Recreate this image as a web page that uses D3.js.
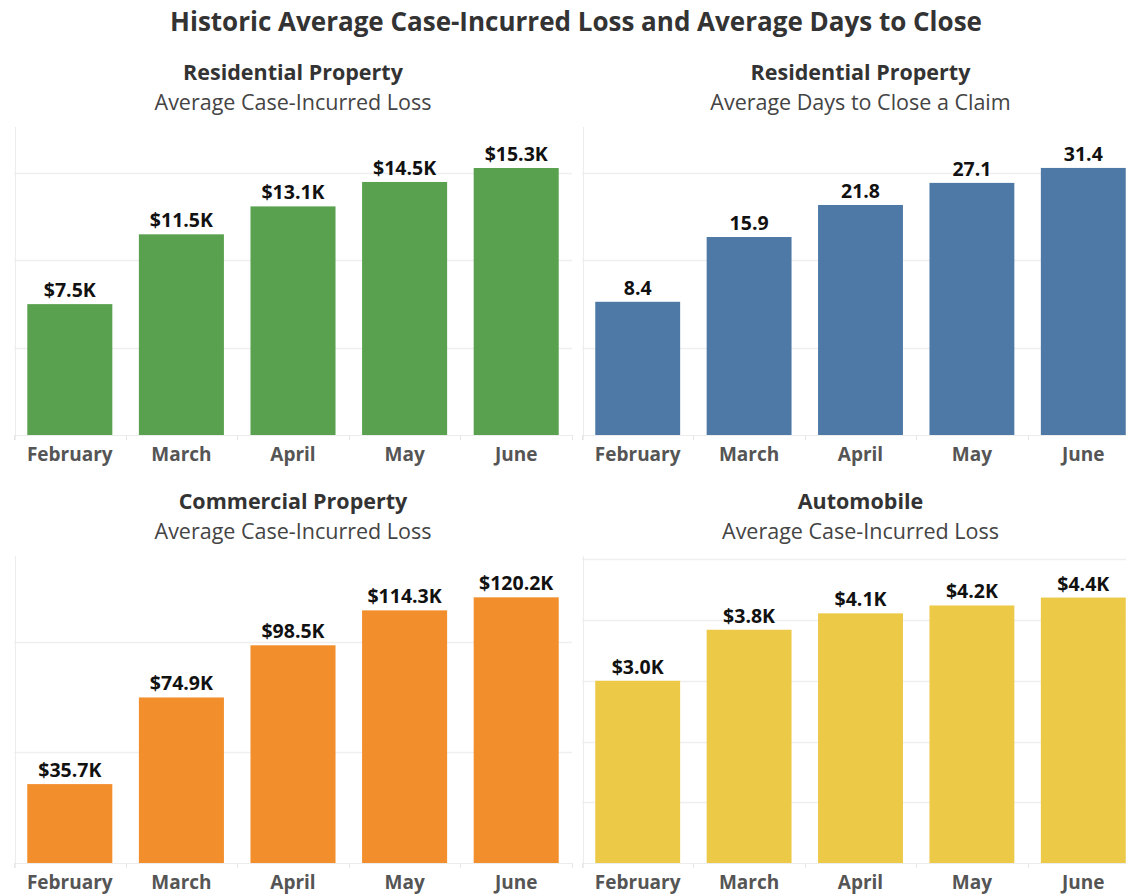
<!DOCTYPE html>
<html>
<head>
<meta charset="utf-8">
<script src="https://cdn.jsdelivr.net/npm/d3@7"></script>
<style>
  html, body { margin: 0; padding: 0; background: #fff; }
  svg { display: block; font-family: "Open Sans", "Noto Sans", sans-serif; }
</style>
</head>
<body>
<svg id="chart" width="1126" height="896"></svg>
<script>
// ---- Data ----
const months = ["February", "March", "April", "May", "June"];
const residentialLoss = [7.5, 11.5, 13.1, 14.5, 15.3];        // $K
const residentialDays = [8.4, 15.9, 21.8, 27.1, 31.4];        // days
const commercialLoss = [35.7, 74.9, 98.5, 114.3, 120.2];      // $K
const automobileLoss = [3.0, 3.84, 4.11, 4.24, 4.37];         // $K
const residentialLossTicks = [5, 10, 15];
const commercialLossTicks = [50, 100];
const automobileLossTicks = [1, 2, 3, 4, 5];

const svg = d3.select("#chart");

svg.append("text")
  .attr("x", 576).attr("y", 31)
  .attr("text-anchor", "middle")
  .attr("font-size", 26).attr("font-weight", 700)
  .attr("fill", "#333")
  .text("Historic Average Case-Incurred Loss and Average Days to Close");

const panels = [
  { title: "Residential Property", sub: "Average Case-Incurred Loss", values: residentialLoss,
    color: "#59A14F", x0: 14, x1: 572, top: 127, base: 435, yType: "linear", max: 17.65,
    ticks: residentialLossTicks, fmt: v => "$" + d3.format(".1f")(v) + "K" },
  { title: "Residential Property", sub: "Average Days to Close a Claim", values: residentialDays,
    color: "#4E79A7", x0: 582, x1: 1139, top: 127, base: 435, yType: "log", min: 2.261, max: 47.0,
    gridFrom: 0, fmt: v => d3.format(".1f")(v) },
  { title: "Commercial Property", sub: "Average Case-Incurred Loss", values: commercialLoss,
    color: "#F28E2B", x0: 14, x1: 572, top: 556, base: 863, yType: "linear", max: 138.9,
    ticks: commercialLossTicks, fmt: v => "$" + d3.format(".1f")(v) + "K" },
  { title: "Automobile", sub: "Average Case-Incurred Loss", values: automobileLoss,
    color: "#EDC948", x0: 582, x1: 1139, top: 556, base: 863, yType: "linear", max: 5.054,
    ticks: automobileLossTicks, fmt: v => "$" + d3.format(".1f")(v) + "K" }
];

// build scales
panels.forEach(p => {
  p.x = d3.scaleBand().domain(months).range([p.x0, p.x1]).paddingInner(0.238).paddingOuter(0.119);
  p.y = p.yType === "log"
    ? d3.scaleLog().domain([p.min, p.max]).range([p.base, p.top])
    : d3.scaleLinear().domain([0, p.max]).range([p.base, p.top]);
});

panels.forEach((p, i) => {
  const g = svg.append("g");
  const cx = (p.x0 + p.x1) / 2;

  // titles
  g.append("text").attr("x", cx).attr("y", p.top - 47)
    .attr("text-anchor", "middle").attr("font-size", 21.5).attr("font-weight", 700)
    .attr("fill", "#333").text(p.title);
  g.append("text").attr("x", cx).attr("y", p.top - 17)
    .attr("text-anchor", "middle").attr("font-size", 21.5).attr("font-weight", 400)
    .attr("fill", "#444").text(p.sub);

  // gridlines
  const gridScale = p.gridFrom !== undefined ? panels[p.gridFrom].y : p.y;
  const gridTicks = p.gridFrom !== undefined ? panels[p.gridFrom].ticks : p.ticks;
  g.selectAll(".grid").data(gridTicks).join("line")
    .attr("x1", p.x0).attr("x2", Math.min(p.x1, 1126))
    .attr("y1", d => Math.round(gridScale(d)) + 0.5).attr("y2", d => Math.round(gridScale(d)) + 0.5)
    .attr("stroke", "#efefef").attr("stroke-width", 1.5);

  // axis lines
  g.append("line").attr("x1", p.x0 + 1.5).attr("x2", p.x0 + 1.5)
    .attr("y1", p.top).attr("y2", p.base + 5)
    .attr("stroke", "#ececec").attr("stroke-width", 1);
  g.append("line").attr("x1", p.x0).attr("x2", Math.min(p.x1, 1126))
    .attr("y1", p.base + 0.5).attr("y2", p.base + 0.5)
    .attr("stroke", "#ececec").attr("stroke-width", 1);

  // category boundary ticks
  const step = p.x.step();
  const bounds = months.map((m, k) => p.x(m) - p.x.paddingInner() * step / 2).concat([p.x1]);
  g.selectAll(".tk").data(bounds).join("line")
    .attr("x1", d => Math.round(d) + 0.5).attr("x2", d => Math.round(d) + 0.5)
    .attr("y1", p.base).attr("y2", p.base + 5)
    .attr("stroke", "#e6e6e6");

  // bars
  g.selectAll(".bar").data(p.values).join("rect")
    .attr("x", (d, k) => p.x(months[k]))
    .attr("width", p.x.bandwidth())
    .attr("y", d => p.y(d))
    .attr("height", d => p.base - p.y(d))
    .attr("fill", p.color);

  // value labels
  g.selectAll(".lbl").data(p.values).join("text")
    .attr("x", (d, k) => p.x(months[k]) + p.x.bandwidth() / 2)
    .attr("y", d => p.y(d) - 7)
    .attr("text-anchor", "middle").attr("font-size", 19.5).attr("font-weight", 700)
    .attr("fill", "#111").text(d => p.fmt(d));

  // month labels
  g.selectAll(".mlbl").data(months).join("text")
    .attr("x", d => p.x(d) + p.x.bandwidth() / 2)
    .attr("y", p.base + 26)
    .attr("text-anchor", "middle").attr("font-size", 19).attr("font-weight", 700)
    .attr("fill", "#555").text(d => d);
});
</script>
</body>
</html>
